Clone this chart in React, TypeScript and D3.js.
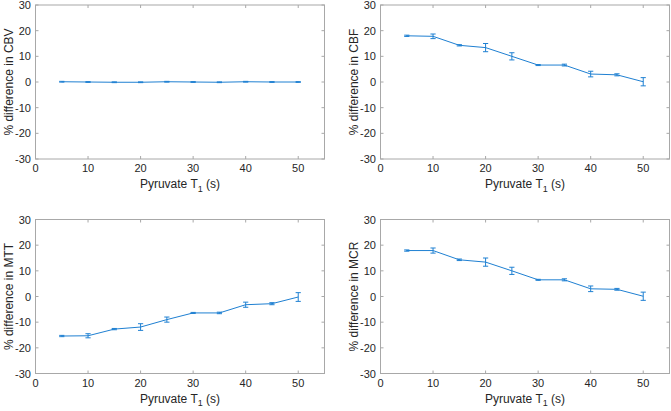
import React from "react";
import * as d3 from "d3";

const t1 = [5, 10, 15, 20, 25, 30, 35, 40, 45, 50];
const cbv = [0.1, 0.0, -0.1, -0.1, 0.1, 0.0, -0.1, 0.1, 0.0, 0.0];
const cbvErr = [0.15, 0.15, 0.15, 0.15, 0.15, 0.15, 0.15, 0.15, 0.15, 0.15];
const cbf = [18.0, 17.8, 14.3, 13.4, 10.0, 6.6, 6.6, 3.1, 2.8, 0.1];
const cbfErr = [0.25, 0.9, 0.25, 1.6, 1.4, 0.2, 0.35, 1.1, 0.4, 1.6];
const mtt = [-15.4, -15.3, -12.7, -11.9, -9.0, -6.4, -6.4, -3.2, -2.8, -0.2];
const mttErr = [0.25, 0.8, 0.25, 1.3, 1.0, 0.2, 0.3, 1.0, 0.4, 1.7];
const mcr = [17.9, 17.9, 14.3, 13.4, 10.0, 6.5, 6.5, 3.0, 2.8, 0.1];
const mcrErr = [0.25, 1.0, 0.3, 1.6, 1.4, 0.2, 0.4, 1.1, 0.35, 1.6];

const xTicks = [0, 10, 20, 30, 40, 50];
const yTicks = [-30, -20, -10, 0, 10, 20, 30];
const xDomain = [0, 55];
const yDomain = [-30, 30];

const panels = [
  { label: "CBV", values: cbv, errs: cbvErr, left: 35.5, top: 5 },
  { label: "CBF", values: cbf, errs: cbfErr, left: 380.5, top: 5 },
  { label: "MTT", values: mtt, errs: mttErr, left: 35.5, top: 219.5 },
  { label: "MCR", values: mcr, errs: mcrErr, left: 380.5, top: 219.5 },
];

const W = 289;
const H = 154;
const AXIS = "#a8a8a8";
const TEXT = "#262626";
const LINE = "#1f80d2";
const FONT = "'Liberation Sans', Arial, Helvetica, sans-serif";

function Panel({ label, values, errs, left, top }: any) {
  const x = d3.scaleLinear().domain(xDomain).range([0, W]);
  const y = d3.scaleLinear().domain(yDomain).range([H, 0]);
  const line = d3
    .line<number>()
    .x((_, i) => x(t1[i]))
    .y((v) => y(v));
  const tl = 3;
  const cap = 2.6;
  return (
    <g transform={`translate(${left},${top})`}>
      <rect x={0} y={0} width={W} height={H} fill="white" stroke={AXIS} strokeWidth={1} />
      {xTicks.map((t) => (
        <g key={"x" + t}>
          <line x1={x(t)} x2={x(t)} y1={H} y2={H - tl} stroke={AXIS} />
          <line x1={x(t)} x2={x(t)} y1={0} y2={tl} stroke={AXIS} />
          <text x={x(t)} y={H + 13} textAnchor="middle" fontSize={11} fill={TEXT} fontFamily={FONT}>
            {t}
          </text>
        </g>
      ))}
      {yTicks.map((t) => (
        <g key={"y" + t}>
          <line x1={0} x2={tl} y1={y(t)} y2={y(t)} stroke={AXIS} />
          <line x1={W} x2={W - tl} y1={y(t)} y2={y(t)} stroke={AXIS} />
          <text x={-4.5} y={y(t) + 4} textAnchor="end" fontSize={11} fill={TEXT} fontFamily={FONT}>
            {t}
          </text>
        </g>
      ))}
      <path d={line(values) || ""} fill="none" stroke={LINE} strokeWidth={1} />
      {values.map((v: number, i: number) => {
        const cx = x(t1[i]);
        const y0 = y(v - errs[i]);
        const y1 = y(v + errs[i]);
        return (
          <g key={"e" + i} stroke={LINE} strokeWidth={1}>
            <line x1={cx} x2={cx} y1={y0} y2={y1} />
            <line x1={cx - cap} x2={cx + cap} y1={y0} y2={y0} />
            <line x1={cx - cap} x2={cx + cap} y1={y1} y2={y1} />
          </g>
        );
      })}
      <text x={W / 2} y={H + 29} textAnchor="middle" fontSize={12} fill={TEXT} fontFamily={FONT}>
        Pyruvate T
        <tspan fontSize={9} dy={3.5}>1</tspan>
        <tspan dy={-3.5}> (s)</tspan>
      </text>
      <text
        transform={`translate(-22.5,${H / 2}) rotate(-90)`}
        textAnchor="middle"
        fontSize={12}
        fill={TEXT}
        fontFamily={FONT}
      >
        % difference in {label}
      </text>
    </g>
  );
}

export default function App() {
  return (
    <svg
      width={671}
      height={411}
      style={{ position: "absolute", left: 0, top: 0, background: "white" }}
    >
      {panels.map((p) => (
        <Panel key={p.label} {...p} />
      ))}
    </svg>
  );
}
